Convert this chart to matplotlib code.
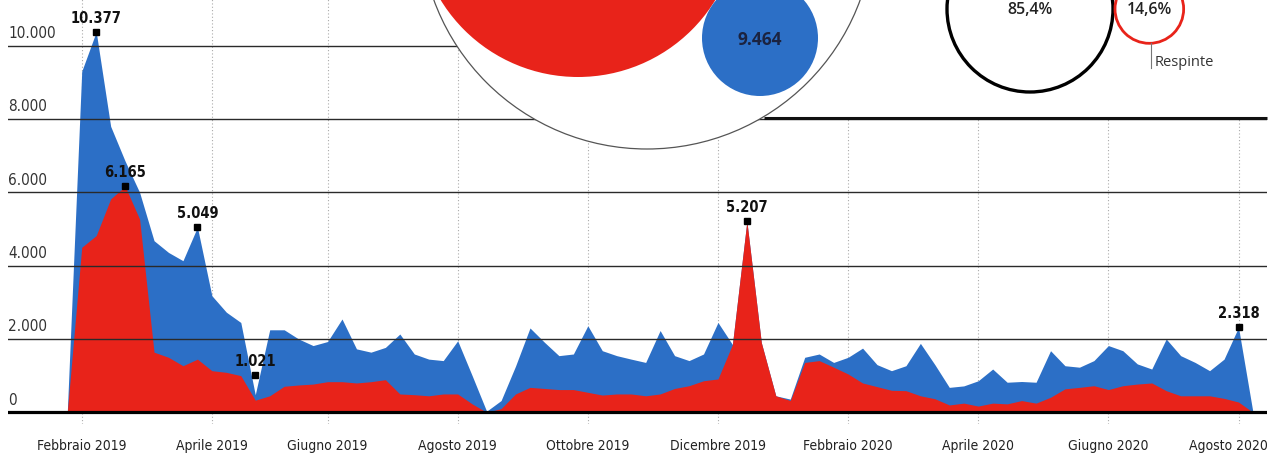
import numpy as np
import matplotlib
matplotlib.use("Agg")
import matplotlib.pyplot as plt
import matplotlib.transforms as mtransforms
from matplotlib.patches import Circle, Rectangle

# Weekly values (one per week, first point is the zero start)
blue = [0, 9300, 10377, 7800, 6850, 6000, 4680, 4360, 4135, 5049,
        3180, 2730, 2450, 480, 2250, 2250, 2000, 1820, 1930, 2545,
        1730, 1640, 1770, 2135, 1590, 1450, 1410, 1950, 1000, 30,
        320, 1260, 2300, 1910, 1545, 1590, 2360, 1680, 1545, 1450,
        1360, 2230, 1545, 1410, 1590, 2450, 1850, 5207, 1900, 450,
        360, 1500, 1590, 1360, 1500, 1750, 1300, 1135, 1270, 1880,
        1300, 680, 720, 860, 1180, 820, 840, 820, 1680, 1270,
        1230, 1410, 1820, 1680, 1320, 1180, 2000, 1545, 1360, 1135,
        1450, 2318, 0]
red = [0, 4500, 4820, 5820, 6165, 5270, 1640, 1500, 1270, 1450,
       1135, 1090, 1000, 330, 450, 710, 745, 770, 835, 835,
       800, 835, 890, 500, 480, 450, 500, 500, 230, 0,
       100, 500, 680, 650, 620, 620, 545, 470, 500, 500,
       450, 500, 650, 725, 860, 910, 1850, 5207, 1900, 450,
       320, 1360, 1410, 1230, 1045, 800, 700, 600, 590, 450,
       370, 200, 250, 170, 250, 230, 320, 250, 410, 640,
       680, 725, 620, 725, 770, 800, 590, 450, 450, 450,
       380, 280, 0]

tick_weeks = [1, 10, 18, 27, 36, 45, 54, 63, 72, 81]
tick_labels = ["Febbraio 2019", "Aprile 2019", "Giugno 2019", "Agosto 2019",
               "Ottobre 2019", "Dicembre 2019", "Febbraio 2020", "Aprile 2020",
               "Giugno 2020", "Agosto 2020"]
y_ticks = [0, 2000, 4000, 6000, 8000, 10000]

peak_weeks = [2, 4, 9, 13, 47, 81]
peak_values = [10377, 6165, 5049, 1021, 5207, 2318]

blue_total = 9464
shares = [85.4, 14.6]

BLUE = "#2c6fc6"
RED = "#e8231a"
COND = ["Liberation Sans Narrow", "DejaVu Sans"]
SANS = ["Open Sans", "DejaVu Sans"]


def it_num(v):
    return f"{v:,}".replace(",", ".")


def main():
    fig = plt.figure(figsize=(12.77, 4.56), dpi=100)
    W, H = 1277, 456

    # main chart axes (pixel layout from the reference)
    ax = fig.add_axes([8 / W, (H - 425.4) / H, (1266.7 - 8) / W, 425.4 / H])
    ax.set_xlim(-4.1, 82.95)
    ax.set_ylim(-330, 11272)
    for s in ax.spines.values():
        s.set_visible(False)

    x = np.arange(len(blue))
    for t in tick_weeks:
        ax.axvline(t, color="#aaaaaa", lw=0.8, ls=(0, (1, 2)), zorder=0)

    ax.fill_between(x, 0, blue, color=BLUE, lw=0, zorder=1)
    ax.fill_between(x, 0, red, color=RED, lw=0, zorder=2)

    for v in y_ticks[1:]:
        ax.axhline(v, color="#2a2a2a", lw=1.0, zorder=3)
    ax.axhline(0, color="black", lw=2.3, zorder=4)

    for v in y_ticks:
        ax.annotate(it_num(v), xy=(0, v), xycoords=("axes fraction", "data"),
                    xytext=(0, 4), textcoords="offset points",
                    ha="left", va="bottom", fontsize=11, color="#333333",
                    family=COND, fontstretch="condensed")

    ax.set_xticks(tick_weeks)
    ax.set_xticklabels(tick_labels, family=COND, fontstretch="condensed",
                       fontsize=10, color="#222222")
    ax.tick_params(axis="x", length=0, pad=10)
    ax.set_yticks([])
    # last label sits a little left of its tick, as in the print
    last = ax.get_xticklabels()[-1]
    last.set_transform(last.get_transform() +
                       mtransforms.ScaledTranslation(-10 / 100, 0, fig.dpi_scale_trans))

    for w, v in zip(peak_weeks, peak_values):
        ax.plot(w, v, marker="s", ms=4.5, color="black", zorder=5)
        ax.annotate(it_num(v), xy=(w, v), xytext=(0, 5),
                    textcoords="offset points", ha="center", va="bottom",
                    fontsize=10.5, fontweight="bold", color="#111111",
                    family=COND, fontstretch="condensed", zorder=6)

    # top overlay with the bubbles (pixel coordinates)
    ov = fig.add_axes([0, 0, 1, 1], zorder=5)
    ov.set_xlim(0, W)
    ov.set_ylim(H, 0)
    ov.set_aspect("equal")
    ov.axis("off")

    ov.add_patch(Rectangle((764, -5), W - 764 + 5, 124.3, fc="white", ec="none"))
    ov.plot([764, 1266.7], [119.3, 119.3], color="#111111", lw=2.2,
            solid_capstyle="butt")

    ov.add_patch(Circle((647, -77), 227, fc="white", ec="#555555", lw=0.9))
    ov.add_patch(Circle((578, -83), 161, fc=RED, ec="none"))
    ov.add_patch(Circle((760, 39), 58, fc=BLUE, ec="none"))
    ov.text(760, 40, it_num(blue_total), ha="center", va="center",
            fontsize=12.5, fontweight="bold", color="#1b2340", family=SANS)

    k = 83 / np.sqrt(shares[0])
    r1 = k * np.sqrt(shares[0])
    r2 = k * np.sqrt(shares[1])
    c1 = (1030, 10)
    c2 = (c1[0] + r1 + r2 + 2, 10)
    ov.add_patch(Circle(c1, r1, fc="white", ec="black", lw=2.4))
    ov.add_patch(Circle(c2, r2, fc="white", ec=RED, lw=2.0))
    ov.text(c1[0], c1[1], f"{shares[0]:.1f}%".replace(".", ","), ha="center",
            va="center", fontsize=11.5, fontweight="semibold", color="#222222",
            family=SANS)
    ov.text(c2[0], c2[1], f"{shares[1]:.1f}%".replace(".", ","), ha="center",
            va="center", fontsize=11.5, fontweight="semibold", color="#222222",
            family=SANS)
    ov.plot([c2[0] + 1.5, c2[0] + 1.5], [c2[1] + r2, c2[1] + r2 + 25],
            color="#777777", lw=0.8)
    ov.text(c2[0] + 5, 63, "Respinte", ha="left", va="center", fontsize=10.5,
            color="#333333", family=SANS)

    fig.savefig("out.png", dpi=100)


if __name__ == "__main__":
    main()
